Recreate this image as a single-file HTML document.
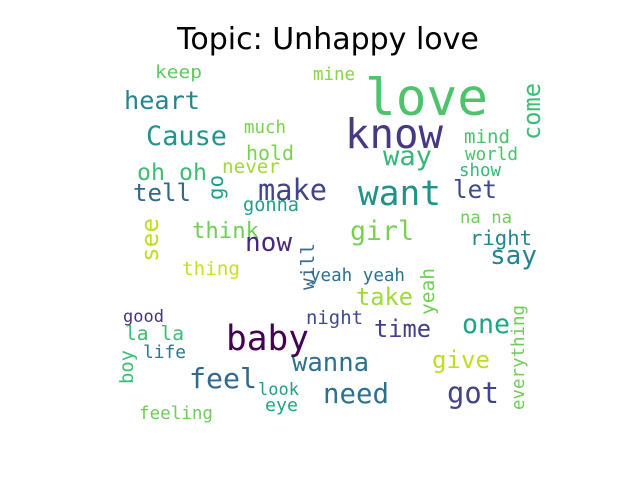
<!DOCTYPE html>
<html><head><meta charset="utf-8"><title>Topic: Unhappy love</title>
<style>
html,body{margin:0;padding:0;background:#fff;}
svg{display:block;}
</style></head>
<body>
<svg id="chart" width="640" height="480" viewBox="0 0 640 480" xmlns="http://www.w3.org/2000/svg">
<rect width="640" height="480" fill="#fff"/>
<text x="328" y="49" text-anchor="middle" font-family="DejaVu Sans, Liberation Sans, sans-serif" font-size="30" fill="#000">Topic: Unhappy love</text>
<g id="cloud"></g>
</svg>
<script>
const words = ["keep","mine","love","heart","know","come","Cause","much","mind","way","world","hold","never","oh oh","show","go","make","want","let","tell","gonna","think","na na","girl","see","now","right","say","will","thing","yeah yeah","yeah","take","good","night","one","time","everything","la la","baby","life","boy","wanna","give","feel","look","need","got","eye","feeling"];
const sizes = [18,17.5,51,25,41,24,27,17.5,19,27,17.7,20,19.3,23,17.5,21,29,35,24.5,24,18.7,22,17,27,24,26,20,26,19,19,17.6,19,24,17,19,26.7,24,17.5,19.7,35,18,19,25.7,24,28,17,27.5,29,18,17.6];
const xs = [155,313,365,124,345,540,146,244,464,383,465,246,222,137,459,223,258,358,453,133,243,192,460,350,158,245,470,490,314,182,310,434,356,123,306,462,374,524,125,226,143,133,292,432,189,258,323,447,265,139];
const ys = [78,80,115,109,148,140,145,133,143,165,160,160,173,180,176,200,200,205,198,201,211,238,223,240,262,251,245,264,290,275,281,315,305,322,324,333,337,410,340,350,358,384,371,368,388,395,403,403,411,419];
const widths = [47,42,123,76,98,57,81,42,46,49,53,48,58,70,42,25,69,83,44,58,56,67,52,64,44,47,62,47,47,58,95,47,57,41,57,48,57,105,59,83,43,34,77,58,68,41,66,52,33,74];
const vertical = [0,0,0,0,0,1,0,0,0,0,0,0,0,0,0,1,0,0,0,0,0,0,0,0,1,0,0,0,1,0,0,1,0,0,0,0,0,1,0,0,0,1,0,0,0,0,0,0,0,0];
const colors = ["#5ec962","#86d549","#4ec36b","#25858e","#443a83","#3dbc74","#1f968b","#7ad151","#4ac16d","#35b779","#4ac16d","#7ad151","#a0da39","#3dbc74","#35b779","#1f9e89","#414487","#21918c","#3e4a89","#31688e","#1f9e89","#6ece58","#6ece58","#7ad151","#bddf26","#482878","#25858e","#26828e","#3e6a8e","#c8e020","#2d708e","#6ece58","#a0da39","#46337e","#3e4a89","#20a486","#433e85","#6ece58","#3dbc74","#440154","#2a788e","#3dbc74","#2c728e","#bddf26","#31688e","#1f9e89","#2c728e","#414487","#20a486","#6ece58"];

const g = document.getElementById('cloud');
for (let i = 0; i < words.length; i++) {
  const t = document.createElementNS('http://www.w3.org/2000/svg','text');
  t.setAttribute('x', xs[i]);
  t.setAttribute('y', ys[i]);
  t.setAttribute('font-family', 'DejaVu Sans Mono, Liberation Mono, monospace');
  t.setAttribute('font-size', sizes[i]);
  t.setAttribute('fill', colors[i]);
  t.setAttribute('textLength', widths[i]);
  t.setAttribute('lengthAdjust', 'spacingAndGlyphs');
  if (vertical[i]) t.setAttribute('transform', 'rotate(-90 ' + xs[i] + ' ' + ys[i] + ')');
  t.textContent = words[i];
  
  
  g.appendChild(t);
}
</script>
</body></html>
